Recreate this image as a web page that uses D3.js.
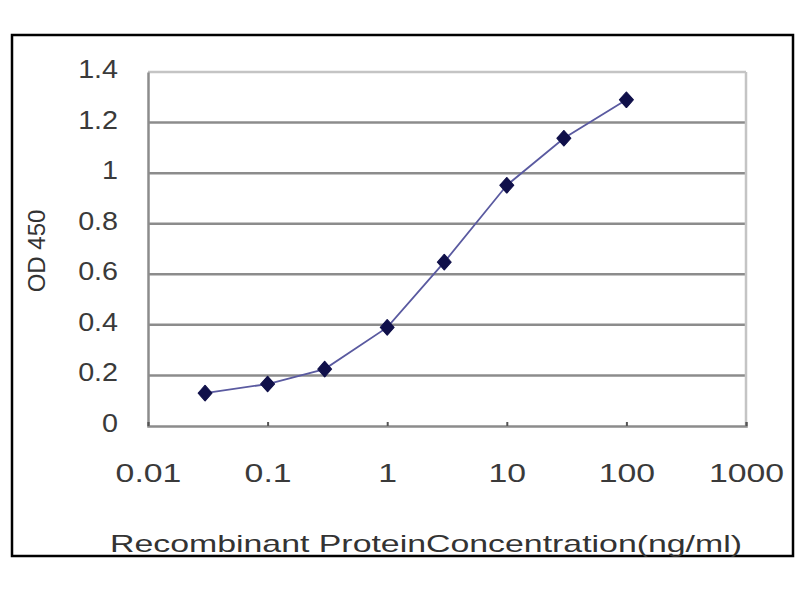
<!DOCTYPE html>
<html>
<head>
<meta charset="utf-8">
<script src="https://cdn.jsdelivr.net/npm/d3@7"></script>
<style>
  body { margin: 0; background: #fff; }
  svg { display: block; font-family: "Liberation Sans", Arial, sans-serif; }
</style>
</head>
<body>
<div id="app"></div>
<script>
// data
const concentrations = [0.03, 0.1, 0.3, 1, 3, 10, 30, 100];
const od450 = [0.13, 0.166, 0.225, 0.39, 0.648, 0.952, 1.138, 1.29];
const xTicks = [0.01, 0.1, 1, 10, 100, 1000];
const yTicks = [0, 0.2, 0.4, 0.6, 0.8, 1, 1.2, 1.4];

const width = 800, height = 600;
const margin = { top: 72, right: 54, bottom: 174, left: 148 };

const svg = d3.select('#app').append('svg')
    .attr('width', width)
    .attr('height', height);

// outer frame
svg.append('rect')
    .attr('x', 12).attr('y', 35)
    .attr('width', 781).attr('height', 521)
    .attr('fill', 'none')
    .attr('stroke', '#000')
    .attr('stroke-width', 2.5);

const x = d3.scaleLog()
    .domain([0.01, 1000])
    .range([margin.left, width - margin.right]);

const y = d3.scaleLinear()
    .domain([0, 1.4])
    .range([height - margin.bottom, margin.top]);

// gridlines
svg.append('g')
    .selectAll('line')
    .data(yTicks.filter(d => d > 0))
    .join('line')
    .attr('x1', x(0.01)).attr('x2', x(1000))
    .attr('y1', d => y(d)).attr('y2', d => y(d))
    .attr('stroke', d => d === 1.4 ? '#c4c4c4' : '#8c8c8c')
    .attr('stroke-width', 2.5);

// right plot border
svg.append('line')
    .attr('x1', x(1000)).attr('x2', x(1000))
    .attr('y1', y(1.4)).attr('y2', y(0))
    .attr('stroke', '#c4c4c4')
    .attr('stroke-width', 2.5);

const yAxis = g => g
    .attr('transform', `translate(${margin.left}, 0)`)
    .call(d3.axisLeft(y).tickValues(yTicks).tickSize(0).tickPadding(26).tickFormat(d3.format('~g')))
    .call(g => g.select('.domain').attr('stroke', '#8c8c8c').attr('stroke-width', 2.5))
    .call(g => g.selectAll('text')
        .attr('font-size', 25)
        .attr('fill', '#3a3a3a')
        .attr('dy', '0.22em')
        .attr('transform', 'scale(1.15,1)'));

const xAxis = g => g
    .attr('transform', `translate(0, ${height - margin.bottom})`)
    .call(d3.axisBottom(x).tickValues(xTicks).tickSize(-4).tickPadding(38).tickFormat(d3.format('~g')))
    .call(g => g.select('.domain').attr('stroke', '#8c8c8c').attr('stroke-width', 2.5))
    .call(g => g.selectAll('.tick line').attr('stroke', '#555').attr('stroke-width', 2))
    .call(g => g.selectAll('text')
        .attr('font-size', 26)
        .attr('fill', '#3a3a3a')
        .attr('transform', 'scale(1.3,1)'));

svg.append('g').call(yAxis);
svg.append('g').call(xAxis);

// axis titles
svg.append('text')
    .attr('transform', `translate(45, ${(y(0) + y(1.4)) / 2 + 2}) rotate(-90)`)
    .attr('text-anchor', 'middle')
    .attr('font-size', 24)
    .attr('fill', '#333')
    .text('OD 450');

svg.append('text')
    .attr('x', 110)
    .attr('y', 552)
    .attr('font-size', 24)
    .attr('fill', '#333')
    .attr('textLength', 632)
    .attr('lengthAdjust', 'spacingAndGlyphs')
    .text('Recombinant ProteinConcentration(ng/ml)');

// series
const pts = concentrations.map((c, i) => [c, od450[i]]);

svg.append('path')
    .datum(pts)
    .attr('fill', 'none')
    .attr('stroke', '#5a5aa0')
    .attr('stroke-width', 1.8)
    .attr('d', d3.line().x(d => x(d[0])).y(d => y(d[1])));

svg.append('g')
    .selectAll('path')
    .data(pts)
    .join('path')
    .attr('transform', d => `translate(${x(d[0])}, ${y(d[1])}) scale(1.45,0.95)`)
    .attr('d', d3.symbol().type(d3.symbolDiamond).size(80))
    .attr('fill', '#10104a')
    .attr('stroke', '#10104a')
    .attr('stroke-width', 0.8)
    .attr('stroke-linejoin', 'round');
</script>
</body>
</html>
